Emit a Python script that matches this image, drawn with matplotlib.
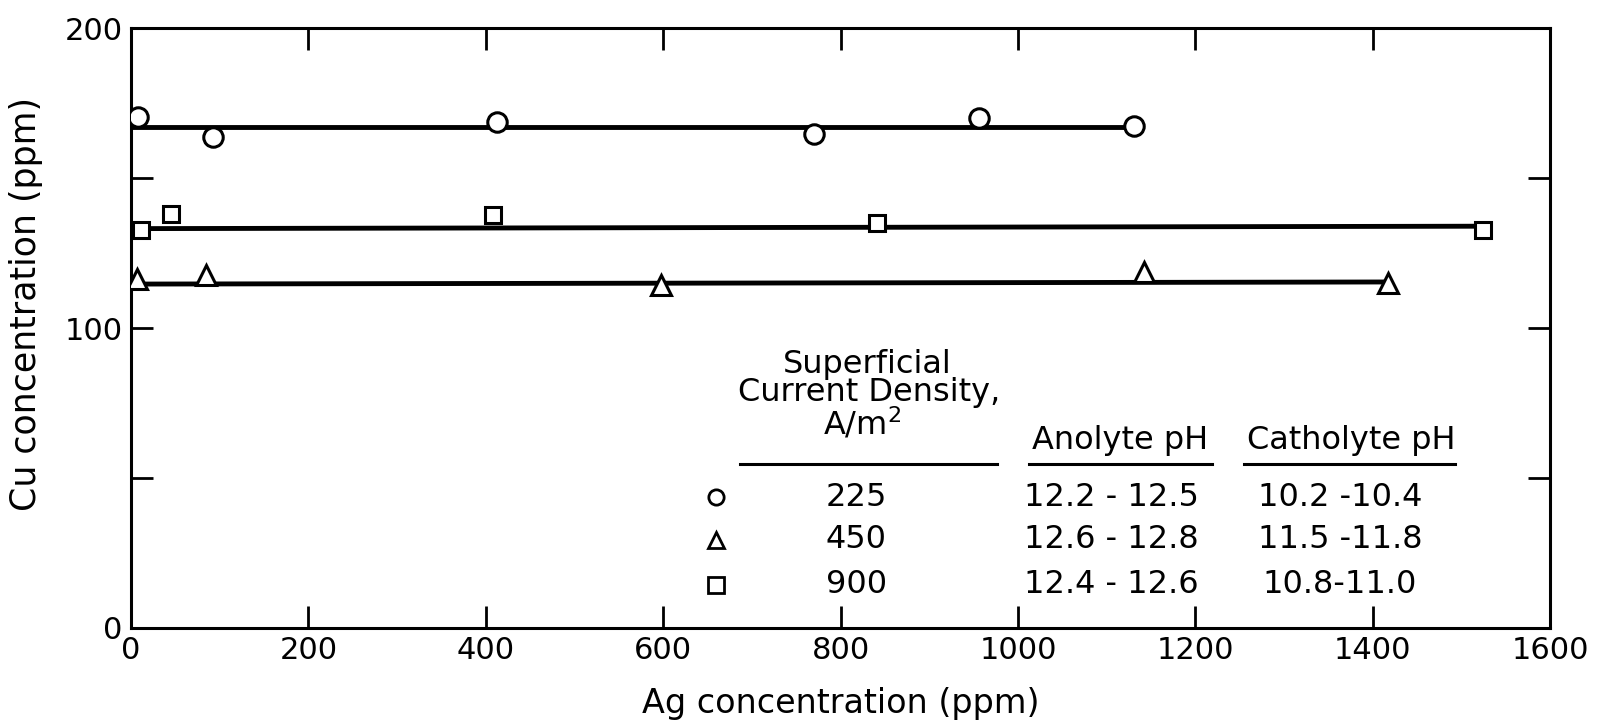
from __future__ import annotations

import matplotlib

matplotlib.use("Agg")
import matplotlib.pyplot as plt


OUT_PATH = "out.png"

# values (Ag ppm, Cu ppm)
circle_ag = [8, 92, 413, 770, 956, 1131]
circle_cu = [170.4, 163.8, 168.8, 164.7, 170.1, 167.3]
circle_fit_ag = [0, 1131]
circle_fit_cu = [167.1, 167.1]

square_ag = [11, 45, 408, 841, 1524]
square_cu = [132.9, 138.2, 137.7, 135.1, 132.7]
square_fit_ag = [11, 1524]
square_fit_cu = [133.2, 134.0]

triangle_ag = [7, 84, 598, 1142, 1417]
triangle_cu = [116.3, 117.7, 114.3, 118.8, 114.9]
triangle_fit_ag = [0, 1417]
triangle_fit_cu = [114.7, 115.4]

x_ticks = [0, 200, 400, 600, 800, 1000, 1200, 1400, 1600]
y_ticks = [0, 50, 100, 150, 200]
y_tick_labels = ["0", "", "100", "", "200"]

legend_markers = ["o", "^", "s"]
legend_density = ["225", "450", "900"]
legend_anolyte = ["12.2 - 12.5", "12.6 - 12.8", "12.4 - 12.6"]
legend_catholyte = ["10.2 -10.4", "11.5 -11.8", "10.8-11.0"]


def main() -> None:
    plt.rcParams["font.family"] = ["DejaVu Sans"]

    fig = plt.figure(figsize=(16.08, 7.26), dpi=100)
    ax = fig.add_axes([0.0815, 0.135, 0.8825, 0.826])

    line_kw = dict(color="black", linewidth=3.5, solid_capstyle="butt")
    mark_kw = dict(
        linestyle="none",
        markerfacecolor="white",
        markeredgecolor="black",
        markeredgewidth=2.2,
        zorder=3,
    )

    ax.plot(circle_fit_ag, circle_fit_cu, **line_kw)
    ax.plot(square_fit_ag, square_fit_cu, **line_kw)
    ax.plot(triangle_fit_ag, triangle_fit_cu, **line_kw)

    ax.plot(circle_ag, circle_cu, marker="o", markersize=14, **mark_kw)
    ax.plot(square_ag, square_cu, marker="s", markersize=12, **mark_kw)
    ax.plot(triangle_ag, triangle_cu, marker="^", markersize=14, **mark_kw)

    ax.set_xlim(0, 1600)
    ax.set_ylim(0, 200)
    ax.set_xticks(x_ticks)
    ax.set_xticklabels([str(v) for v in x_ticks])
    ax.set_yticks(y_ticks)
    ax.set_yticklabels(y_tick_labels)

    ax.tick_params(
        direction="in",
        length=16,
        width=2.0,
        top=True,
        right=True,
        labelsize=22,
        pad=6,
    )
    for spine in ax.spines.values():
        spine.set_linewidth(2.2)

    ax.set_xlabel("Ag concentration (ppm)", fontsize=24)
    ax.set_ylabel("Cu concentration (ppm)", fontsize=25)
    ax.xaxis.set_label_coords(0.5, -0.098)
    ax.yaxis.set_label_coords(-0.062, 0.54)

    # table-style legend inside the axes
    text_kw = dict(transform=ax.transAxes, ha="center", va="center", fontsize=23)
    ax.text(0.519, 0.440, "Superficial", **text_kw)
    ax.text(0.520, 0.392, "Current Density,", **text_kw)
    ax.text(0.515, 0.340, "A/m$^2$", **text_kw)
    ax.text(0.697, 0.313, "Anolyte pH", **text_kw)
    ax.text(0.860, 0.313, "Catholyte pH", **text_kw)

    for x0, x1 in [(0.429, 0.610), (0.633, 0.762), (0.784, 0.933)]:
        ax.plot([x0, x1], [0.273, 0.273], transform=ax.transAxes,
                color="black", linewidth=2.2)

    row_y = [0.218, 0.147, 0.072]
    for i, y in enumerate(row_y):
        ax.plot([0.412], [y], transform=ax.transAxes, marker=legend_markers[i],
                markersize=11, linestyle="none", markerfacecolor="white",
                markeredgecolor="black", markeredgewidth=2.0)
        ax.text(0.511, y, legend_density[i], **text_kw)
        ax.text(0.691, y, legend_anolyte[i], **text_kw)
        ax.text(0.852, y, legend_catholyte[i], **text_kw)

    fig.savefig(OUT_PATH, dpi=100, facecolor="white")
    plt.close(fig)


if __name__ == "__main__":
    main()
